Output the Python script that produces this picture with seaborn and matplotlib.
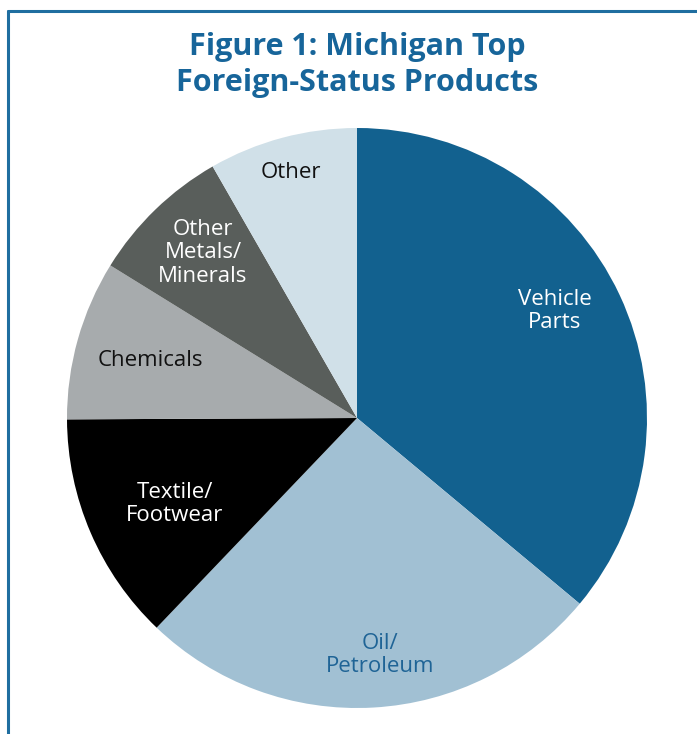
import matplotlib
matplotlib.use("Agg")
import matplotlib.pyplot as plt
from matplotlib.lines import Line2D
import seaborn as sns

categories = ["Vehicle\nParts", "Oil/\nPetroleum", "Textile/\nFootwear",
              "Chemicals", "Other\nMetals/\nMinerals", "Other"]
shares = [36.1, 26.1, 12.8, 8.9, 7.9, 8.3]
colors = ["#12618f", "#a1c0d3", "#000000", "#a7abad", "#595e5b", "#d0e0e8"]
text_colors = ["white", "#1f6496", "white", "#111111", "white", "#111111"]

sns.set_theme(style="white")
plt.rcParams["font.family"] = ["Open Sans", "DejaVu Sans"]

W, H = 697, 734
fig = plt.figure(figsize=(W / 100, H / 100), dpi=100)
fig.patch.set_facecolor("white")

# pie centre / radius in pixels
cx, cy, r = 357, 418, 290
ax = fig.add_axes([(cx - r) / W, (H - cy - r) / H, 2 * r / W, 2 * r / H])
wedges, _ = ax.pie(shares, colors=colors, startangle=90, counterclock=False,
                   radius=1, wedgeprops=dict(linewidth=0))
ax.set_xlim(-1, 1)
ax.set_ylim(-1, 1)
ax.set_aspect("equal")
ax.axis("off")

# label positions (pixel coords in the image)
label_px = [(555, 311), (380, 655), (175, 504), (150, 360), (203, 253), (291, 172)]
for lab, (px, py), tc in zip(categories, label_px, text_colors):
    ax.text((px - cx) / r, (cy - py) / r, lab, ha="center", va="center",
            fontsize=16, color=tc, linespacing=1.14)

fig.text(357 / W, 1 - 65 / H, "Figure 1: Michigan Top\nForeign-Status Products",
         ha="center", va="center", fontsize=22, fontweight="bold",
         color="#17659a", linespacing=1.3)

# frame lines (top and left)
border = "#1f6ea0"
fig.add_artist(Line2D([8 / W, 1], [1 - 11 / H, 1 - 11 / H], color=border,
                      linewidth=2.2, transform=fig.transFigure))
fig.add_artist(Line2D([8 / W, 8 / W], [0, 1 - 11 / H], color=border,
                      linewidth=2.2, transform=fig.transFigure))

fig.savefig("out.png", dpi=100, facecolor="white")
